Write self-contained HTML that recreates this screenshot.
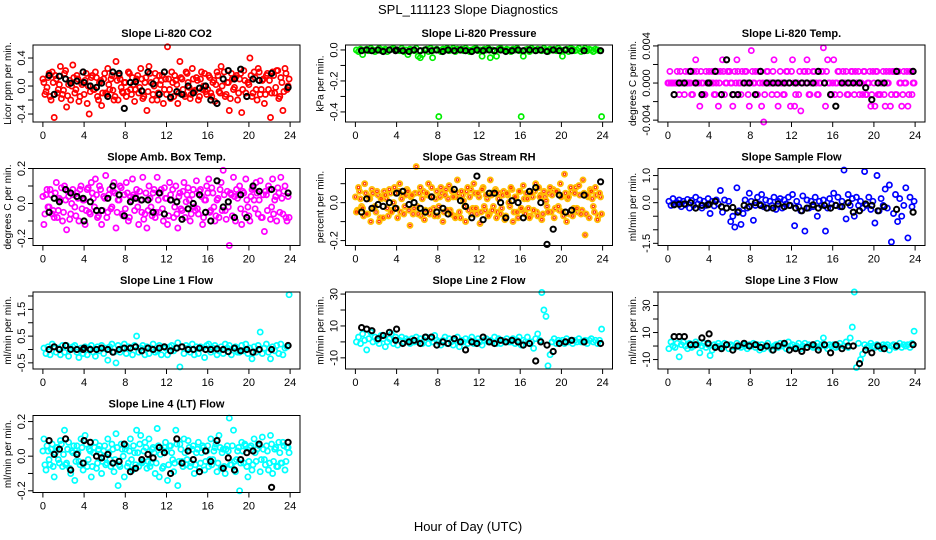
<!DOCTYPE html>
<html><head><meta charset="utf-8"><style>
html,body{margin:0;padding:0;background:#fff;}
svg{display:block;font-family:"Liberation Sans",sans-serif;}
</style></head><body>
<svg id="chart" width="936" height="540" viewBox="0 0 936 540">
<text x="468" y="14" text-anchor="middle" font-size="13">SPL_111123  Slope Diagnostics</text>
<text x="468" y="531" text-anchor="middle" font-size="13">Hour of Day (UTC)</text>
</svg>
<script>
const TC=[0.1,0.3,0.5,0.7,0.9,1.1,1.3,1.5,1.7,1.9,2.1,2.3,2.5,2.7,2.9,3.1,3.3,3.5,3.7,3.9,4.1,4.3,4.5,4.7,4.9,5.1,5.3,5.5,5.7,5.9,6.1,6.3,6.5,6.7,6.9,7.1,7.3,7.5,7.7,7.9,8.1,8.3,8.5,8.7,8.9,9.1,9.3,9.5,9.7,9.9,10.1,10.3,10.5,10.7,10.9,11.1,11.3,11.5,11.7,11.9,12.1,12.3,12.5,12.7,12.9,13.1,13.3,13.5,13.7,13.9,14.1,14.3,14.5,14.7,14.9,15.1,15.3,15.5,15.7,15.9,16.1,16.3,16.5,16.7,16.9,17.1,17.3,17.5,17.7,17.9,18.1,18.3,18.5,18.7,18.9,19.1,19.3,19.5,19.7,19.9,20.1,20.3,20.5,20.7,20.9,21.1,21.3,21.5,21.7,21.9,22.1,22.3,22.5,22.7,22.9,23.1,23.3,23.5,23.7,23.9];
const TC2=[0.0,0.2,0.4,0.6,0.8,1.0,1.2,1.4,1.6,1.8,2.0,2.2,2.4,2.6,2.8,3.0,3.2,3.4,3.6,3.8,4.0,4.2,4.4,4.6,4.8,5.0,5.2,5.4,5.6,5.8,6.0,6.2,6.4,6.6,6.8,7.0,7.2,7.4,7.6,7.8,8.0,8.2,8.4,8.6,8.8,9.0,9.2,9.4,9.6,9.8,10.0,10.2,10.4,10.6,10.8,11.0,11.2,11.4,11.6,11.8,12.0,12.2,12.4,12.6,12.8,13.0,13.2,13.4,13.6,13.8,14.0,14.2,14.4,14.6,14.8,15.0,15.2,15.4,15.6,15.8,16.0,16.2,16.4,16.6,16.8,17.0,17.2,17.4,17.6,17.8,18.0,18.2,18.4,18.6,18.8,19.0,19.2,19.4,19.6,19.8,20.0,20.2,20.4,20.6,20.8,21.0,21.2,21.4,21.6,21.8,22.0,22.2,22.4,22.6,22.8,23.0,23.2,23.4,23.6,23.8];
const TB=[0.6,1.1,1.6,2.2,2.7,3.3,3.9,4.0,4.6,5.2,5.7,6.3,6.8,7.4,7.9,8.5,9.0,9.6,10.2,10.7,11.3,11.8,12.4,13.0,13.5,14.1,14.6,15.2,15.8,16.3,16.9,17.5,18.0,18.6,19.2,19.8,20.4,21.0,22.2,23.8];
const xTicks=[0,4,8,12,16,20,24];

const co2C=[.05,-.08,.12,-.15,.2,-.45,.1,-.05,.28,-.12,.18,-.3,.02,-.2,.3,-.1,.15,-.22,.05,.2,.08,-.25,-.4,.12,-.05,.2,-.15,.05,-.28,.1,-.1,.25,-.05,.15,-.2,.35,-.2,.1,-.08,.05,-.15,.2,-.05,.12,-.22,.1,-.1,.25,-.18,.05,-.35,.28,.05,-.12,.18,-.2,.15,.08,-.25,.1,.56,-.05,.2,-.15,.08,-.25,.35,.1,-.12,.2,.05,-.18,.25,-.08,.12,-.2,.1,-.05,.18,-.12,.15,-.1,.05,-.22,.2,-.08,.28,.1,-.15,.05,-.35,.18,-.05,.12,-.2,.1,-.38,.22,-.1,.05,.4,-.15,.2,-.05,.25,-.12,.08,-.25,.15,-.05,-.45,.2,-.1,.22,-.18,.12,-.35,.25,-.05,.1];
const co2C2=[.1,-.12,-.02,.18,-.2,.05,.15,-.1,.02,-.18,-.06,.22,-.14,.08,.0,.12,-.05,.1,-.15,.02,-.12,.18,.0,-.08,.15,-.05,.12,-.2,.08,-.1,.18,-.12,.02,.1,-.06,-.15,.08,.15,-.02,-.1,.05,-.08,.18,-.12,.02,-.05,.15,-.02,.1,-.15,.12,-.08,.18,-.2,.0,.08,-.1,.02,.15,-.05,-.12,.1,-.18,.05,.15,.02,-.1,.12,-.05,-.15,.18,-.02,-.12,.1,-.06,.08,-.15,.2,.0,-.08,-.05,.12,-.15,.08,.02,.15,-.1,.0,.2,-.12,.05,-.18,.1,-.02,.15,-.1,.18,-.05,.08,-.15,.02,.15,-.1,.12,-.2,.2,-.05,.1,-.12,.18,.08,-.1,.15,-.02,.22,-.15,.05,-.08,.18,.0];
const co2B=[.15,-.12,.14,.1,.04,.07,.2,.05,.0,-.02,.04,-.15,.2,.18,-.32,.05,.06,-.07,.2,.03,-.12,.2,-.16,-.08,-.12,.0,-.1,-.03,.0,-.2,-.25,.1,.22,.1,.24,-.15,.1,.08,.18,-.02];
const pressC=[0,-.01,.005,-.03,0,.005,-.005,.01,0,-.01,0,.01,-.005,0,.005,-.01,0,.005,.01,-.005,0,-.005,.01,-.01,0,-.03,.005,0,-.005,.01,-.04,-.05,-.03,0,.005,-.01,.01,-.05,0,.005,-.43,-.01,.005,0,.01,-.005,0,.01,-.01,.005,0,.005,-.005,.01,0,-.01,0,.005,.01,-.005,0,-.04,.005,0,.01,-.05,0,-.01,-.04,.005,.01,0,-.005,.005,0,-.01,.005,0,.01,-.005,-.43,-.04,0,.005,-.01,.01,0,-.005,.005,0,-.005,.01,0,-.01,.005,0,.005,-.005,.01,0,-.04,0,.005,-.01,.01,.005,-.005,0,.01,-.01,0,.01,-.005,.005,0,-.01,.005,0,-.005,-.43];
const pressB=[-.005,0,-.005,0,-.01,0,-.005,0,-.005,-.01,0,-.005,0,-.005,0,-.01,0,-.005,0,-.005,-.01,0,-.005,0,-.005,0,-.01,-.005,0,-.005,0,-.005,0,-.01,0,-.005,0,-.005,-.005,-.005];
const tempC=[0,0,0,0,.00125,-.00125,0,0,.00125,0,0,-.00125,.00125,.0025,0,-.0025,0,-.00125,.00125,0,0,.00125,-.00125,0,-.0025,.00125,.0025,-.00125,0,.00125,0,-.0025,.00125,.0025,0,-.00125,0,.00125,0,-.0025,.0035,0,.00125,-.00125,0,-.0025,-.0042,0,.00125,0,-.00125,.0025,0,-.0025,.00125,0,-.00125,.00125,0,-.0025,.0025,-.0025,0,-.00125,-.003,0,.00125,.0025,-.00125,0,.00125,0,-.00125,0,.00125,.0038,-.0025,.0025,0,-.00125,.0025,0,.00125,-.00125,0,0,.00125,-.00125,0,.00125,-.00125,0,.00125,0,-.00125,.00125,-.00125,0,-.0025,.00125,-.0025,.00125,-.00125,0,.00125,-.0025,0,.00125,-.00125,.00125,-.00125,.00125,0,-.0025,.00125,0,-.0025,.00125,-.00125,0];
const tempC2=[0,.00125,0,-.00125,0,0,.00125,0,-.00125,0,.00125,0,-.00125,0,.00125,0,.00125,0,-.00125,0,.00125,0,0,-.00125,.00125,0,-.00125,.00125,0,.00125,.00125,0,-.00125,0,.00125,0,.00125,0,.00125,-.00125,0,.00125,0,-.00125,.00125,.00125,0,-.00125,.00125,0,0,.00125,0,-.00125,0,0,-.00125,0,.00125,0,.00125,0,-.00125,0,.00125,0,.00125,0,.00125,-.00125,0,.00125,0,-.00125,0,.00125,0,.00125,0,-.00125,0,-.00125,0,.00125,0,.00125,0,-.00125,0,.00125,0,.00125,0,-.00125,0,.00125,-.00125,0,.00125,-.00125,0,.00125,-.00125,-.00125,0,-.00125,.00125,0,-.0025,.00125,.00125,-.00125,.00125,0,-.00125,0,.00125,-.00125,.00125,0];
const tempB=[-.00125,0,0,.00125,0,-.00125,0,0,.00125,-.00125,.0025,-.00125,-.00125,0,0,-.00125,.00125,0,0,0,0,0,0,0,0,0,.00125,0,-.00125,-.0025,0,0,0,0,-.0005,-.0018,0,0,.00125,.00125];
const ambC=[-.12,.05,-.02,.08,-.06,-.08,.12,-.04,.02,-.1,.1,-.15,.04,-.06,.08,-.02,.06,-.1,.1,.02,-.12,.08,-.05,.12,.03,.14,-.08,.1,-.12,.04,.16,-.05,.08,-.02,.12,-.14,.02,.1,-.06,.05,.12,-.1,.04,.14,-.04,.08,-.12,.02,.15,-.06,-.14,.1,-.02,.06,-.08,.15,-.05,.08,-.1,.03,-.12,.12,.02,-.08,.1,-.14,.06,-.04,.12,.01,.09,-.1,.05,-.02,.13,-.06,.08,-.12,.02,.1,.14,-.04,.06,-.1,.02,-.08,.12,.19,-.04,.07,-.24,.05,.15,-.1,.03,.1,-.12,.06,.14,-.02,-.1,.08,.02,.12,-.06,.13,-.08,-.16,.05,.1,-.09,.14,.02,-.1,.06,.15,-.06,.1,-.1,-.08];
const ambC2=[.04,-.06,.08,-.02,.05,-.04,.06,-.08,.03,.09,-.05,.02,.07,-.09,.0,.05,-.07,.03,.08,-.03,.02,-.04,.09,-.06,.06,-.02,.05,-.07,.08,-.04,.03,-.08,.05,-.03,.07,.06,-.05,.02,.09,-.07,-.03,.06,-.08,.02,.05,.04,-.02,.07,-.05,-.09,.06,-.04,.03,-.07,.08,-.05,.02,.06,-.03,.09,.03,-.07,.05,.08,-.02,-.06,.04,-.03,.07,-.08,.05,.02,-.06,.08,-.04,-.03,.07,.04,-.08,.02,.06,-.05,.09,-.02,-.07,.03,.08,-.04,.05,-.09,-.02,.06,-.07,.04,.08,.05,-.03,.07,-.06,.02,-.07,.04,.09,-.03,.06,.02,-.08,.05,.07,-.04,.08,-.02,-.06,.04,.09,-.05,.03,.07,-.08,.04];
const ambB=[-.05,.03,.01,.08,.06,.04,.03,-.1,.01,-.04,-.04,.03,.1,.05,-.07,.01,.03,.02,.02,-.05,.06,-.06,.02,.01,-.09,-.03,.0,.05,-.05,-.1,.13,-.02,.01,-.08,.05,-.08,.1,.07,.08,.06];
const rhC=[-.05,.08,.02,-.03,.1,-.06,.03,-.1,.05,-.02,.06,-.1,.02,-.08,.04,-.03,.07,-.05,.0,.05,-.08,.1,.02,-.06,.04,.06,-.12,.04,-.03,.19,-.06,.08,.02,-.09,.05,.1,-.04,.03,-.07,.06,-.02,.08,-.1,.04,-.04,.09,-.06,.03,-.08,.12,-.05,.06,.01,-.1,.08,.03,-.06,.1,-.03,.05,-.11,.07,-.02,.04,-.07,.12,-.04,.06,-.08,.02,-.06,.04,-.09,.05,.0,.08,-.1,.03,-.05,.06,-.03,.09,-.06,.02,-.08,.05,-.04,.1,-.07,.03,-.09,.06,.01,-.05,.08,.04,-.08,.06,-.02,.1,-.05,.15,-.1,.03,.08,-.07,.05,-.03,.09,-.06,.12,-.17,.04,-.08,.06,-.02,.08,-.09,.05,-.06];
const rhC2=[.03,-.04,.06,-.02,-.07,.05,-.06,.02,.07,-.03,-.05,.04,-.08,.03,.06,.02,-.07,.05,-.04,.08,-.03,.06,-.05,.04,-.02,.07,-.04,.03,-.06,.05,-.02,.05,-.07,.06,-.04,.04,-.06,.08,-.03,.02,-.07,.03,.05,-.05,.07,.02,-.04,.06,-.07,.03,.05,-.08,.04,-.02,.06,-.04,.07,-.03,.05,-.06,.03,-.05,.08,-.04,.02,-.06,.04,-.02,.07,-.05,.05,-.03,.06,-.07,.04,-.02,.07,-.05,.03,-.08,.06,-.04,.02,.05,-.03,-.07,.03,.06,-.05,.08,.04,-.06,.03,-.02,.05,-.05,.07,-.03,.06,-.04,.03,-.07,.05,.02,-.06,.06,-.03,.08,-.05,.04,-.04,.05,-.06,.03,.07,.02,-.05,.04,-.07,.03];
const rhB=[-.05,.02,-.03,-.01,-.02,.0,-.03,.05,.06,-.01,.0,-.03,-.05,.03,-.05,-.03,-.06,.07,.01,-.02,-.08,.14,-.09,.05,.05,.0,-.08,.01,.0,-.08,.06,.08,.0,-.22,-.14,.04,-.05,-.04,.04,.11];
const sampC=[.05,-.1,.15,-.05,.0,.1,-.15,.05,-.08,.12,-.2,.08,-.1,.2,-.05,.1,-.2,.05,-.1,.15,-.4,.05,-.12,.1,-.05,.45,-.35,.1,-.2,.05,-.7,-.5,-.9,.55,-.3,-.8,-.4,.1,-.2,.35,.05,-.65,-.1,.2,-.05,.3,-.15,.1,-.2,.05,-.1,.2,-.25,.05,.15,-.2,.1,-.05,.2,-.1,.3,-.85,.05,-.15,-.3,.25,-1.05,.1,-.2,.05,-.15,.2,-.5,.05,-.1,.1,-1.05,-.2,.15,-.05,.35,-.1,.2,-.15,.05,1.2,-.6,.3,-.1,.15,-.5,.2,-.1,.05,-.2,1.15,-.1,.2,-.25,.05,-.75,1.0,-.3,.15,-.1,.5,-.2,.65,-1.45,-.4,.3,-.7,.15,-.5,-.1,.55,-1.3,.2,-.15,.05];
const sampB=[-.08,-.06,-.05,.0,-.2,-.1,-.08,-.06,.05,-.15,-.2,-.18,-.35,-.1,-.15,.0,-.1,-.2,-.2,-.05,-.15,-.1,-.2,-.3,-.2,-.08,-.2,-.1,-.2,-.1,-.15,.0,-.35,-.3,-.05,-.1,-.3,-.15,-.25,-.35];
const line1C=[.05,-.15,.1,-.2,.2,.1,-.1,.05,-.2,.15,-.1,.15,-.25,.05,.1,.15,-.1,-.3,.05,-.15,.1,-.2,.05,.15,-.1,-.25,.1,-.05,.15,-.15,.05,-.4,.1,.2,-.1,-.5,.15,-.1,.05,.2,-.15,.1,.05,-.2,.15,.5,-.1,.05,.15,-.2,.1,-.15,.05,.2,-.1,-.05,.15,-.2,.1,.05,-.2,.1,.15,-.05,.05,.25,-.65,.1,-.15,.15,.05,-.1,.2,-.2,.1,-.15,.1,.05,-.3,.15,.2,-.1,.05,.15,-.2,-.05,.1,-.15,.2,.05,.15,-.2,.05,.1,-.1,-.1,.15,-.05,.2,-.15,.05,-.35,.1,-.1,.15,.65,-.15,.05,.2,-.1,-.35,.1,-.05,.15,-.15,.2,-.2,.05,.1,2.05];
const line1B=[.0,.1,.0,.15,.0,.0,.0,.05,.0,.0,.05,.0,-.1,.0,.05,.05,.1,-.05,.05,.0,.05,.1,-.05,.05,.1,.0,.0,.05,.0,.0,.02,.0,-.08,.05,-.05,.0,-.1,.0,.0,.15];
const line2C=[0,3,-1,5,1,-5,2,6,0,3,1,-1,4,2,-3,0,2,5,-1,3,-2,1,3,0,2,1,-1,2,0,3,0,2,-1,1,3,-1,2,0,4,1,0,-2,1,3,-1,2,0,-2,1,3,-3,1,0,2,-1,1,3,-1,0,2,0,-2,1,2,0,1,0,3,-1,2,-1,1,0,2,0,0,2,-1,1,3,-2,1,0,3,-1,0,-4,2,5,1,31,20,16,-15,-8,0,2,-1,1,0,1,-1,2,0,1,-1,1,0,2,0,0,1,-1,1,2,0,1,-1,1,8];
const line2B=[9,8,7,2,4,6,1,8,-1,0,1,-1,3,3,-2,0,-1,2,0,-5,0,-1,3,0,-1,1,0,1,0,-2,-1,-12,0,-2,-6,-1,0,1,0,-1];
const line3C=[-2,3,0,-1,2,-8,1,3,0,-2,2,-1,0,3,1,-5,0,2,-1,1,-7,-3,1,0,2,0,-1,2,1,-2,1,0,-1,2,0,-1,1,0,-2,1,0,2,-1,1,-3,1,-2,0,2,-1,-3,0,1,-1,2,0,1,-2,3,0,1,-1,0,2,-2,0,2,-1,1,0,-1,0,2,-1,1,6,0,-2,1,0,1,-1,0,2,-2,0,3,-1,6,14,40,-16,2,-10,-6,1,-1,0,2,0,-1,1,0,-2,1,0,1,-3,0,1,-1,0,2,-1,1,0,1,-1,2,11];
const line3B=[7,7,7,1,1,6,2,9,-1,-2,1,-3,0,2,0,1,-1,0,-3,0,2,-3,-2,-4,-1,1,-3,1,-5,1,-2,0,0,-13,-3,-5,0,-2,0,1];
const line4C=[.1,-.08,.03,-.05,.07,-.12,.05,-.02,.09,-.06,.15,-.04,.08,-.1,.02,-.14,.06,-.03,.1,-.08,.12,-.06,.04,-.12,.02,.08,-.04,.06,-.1,.03,-.05,.1,-.02,.07,-.09,.13,-.17,-.06,.04,-.12,.06,-.04,.1,-.08,.02,.15,-.06,.12,-.03,.08,-.07,.1,-.04,.05,-.1,.16,-.12,.04,-.06,.08,-.14,.06,.02,-.09,.15,-.17,.07,-.03,.1,-.05,.09,-.06,.04,-.1,.02,.08,-.04,.06,-.08,.03,-.06,.1,-.02,.05,-.09,.12,-.07,.04,-.1,.06,.22,-.05,.15,-.09,.03,-.2,.08,-.04,.06,-.12,.05,-.08,.1,-.03,.07,-.09,.11,-.02,.06,-.08,.12,-.1,.04,-.06,.08,-.04,.08,-.08,.05,.02];
const line4C2=[.03,-.05,.06,-.02,.04,-.06,.02,.05,-.04,.07,.01,-.05,.04,-.07,.03,.06,-.03,.02,-.05,.05,-.04,.07,-.02,.03,-.06,.05,-.07,.04,.01,-.03,.06,-.04,.02,-.06,.04,-.02,.05,-.05,.07,.0,.04,-.06,.03,-.02,.06,-.05,.02,.07,-.04,.03,.05,-.03,-.06,.04,.02,-.04,.06,.01,-.07,.05,.03,-.05,.06,-.02,-.04,.07,-.03,.04,-.06,.02,-.02,.05,-.04,.06,-.05,.04,-.07,.02,.05,-.03,.06,-.02,-.05,.03,.07,-.04,.05,.02,-.06,.04,.03,-.05,.06,-.03,-.02,.05,-.04,.03,.07,-.06,-.03,.06,-.05,.02,.04,.06,-.02,.04,-.05,.03,-.04,.07,-.03,.05,-.06,.02,-.04,.06,-.03,.05];
const line4B=[.09,.01,.04,.1,-.08,.01,-.04,.09,.08,.0,-.01,.01,-.04,-.03,.07,-.09,-.07,-.02,.01,-.01,.05,.02,-.1,.1,-.04,.03,-.02,-.09,.03,-.03,.09,-.07,-.01,-.08,-.02,.02,.03,.07,-.18,.08];

const co2Ticks=[-0.4,-0.2,0,0.2,0.4], co2Labels=["-0.4","","0.0","","0.4"];
const pressTicks=[-0.4,-0.3,-0.2,-0.1,0], pressLabels=["-0.4","","-0.2","","0.0"];
const tempTicks=[-0.004,-0.002,0,0.002,0.004], tempLabels=["-0.004","","0.000","","0.004"];
const ambTicks=[-0.2,-0.1,0,0.1,0.2], ambLabels=["-0.2","","0.0","","0.2"];
const rhTicks=[-0.2,-0.1,0,0.1], rhLabels=["-0.2","","0.0",""];
const sampTicks=[-1.5,-1,-0.5,0,0.5,1], sampLabels=["-1.5","","","0.0","","1.0"];
const line1Ticks=[-0.5,0,0.5,1,1.5,2], line1Labels=["-0.5","","0.5","","1.5",""];
const line2Ticks=[-10,0,10,20,30], line2Labels=["-10","","10","","30"];
const line3Ticks=[-10,0,10,20,30,40], line3Labels=["-10","","10","","30",""];
const line4Ticks=[-0.2,-0.1,0,0.1,0.2], line4Labels=["-0.2","","0.0","","0.2"];

const panels=[
 {name:"co2",title:"Slope Li-820 CO2",ylab:"Licor ppm per min.",ymin:-0.514,ymax:0.586,col:"#ff0000",c:co2C,c2:co2C2,b:co2B,t:co2Ticks,l:co2Labels},
 {name:"pressure",title:"Slope Li-820 Pressure",ylab:"kPa per min.",ymin:-0.465,ymax:0.032,col:"#00ee00",c:pressC,b:pressB,t:pressTicks,l:pressLabels},
 {name:"temp",title:"Slope Li-820 Temp.",ylab:"degrees C per min.",ymin:-0.0042,ymax:0.0041,col:"#ff00ff",c:tempC,c2:tempC2,b:tempB,t:tempTicks,l:tempLabels},
 {name:"amb-box-temp",title:"Slope Amb. Box Temp.",ylab:"degrees C per min.",ymin:-0.24,ymax:0.2,col:"#ff00ff",c:ambC,c2:ambC2,b:ambB,t:ambTicks,l:ambLabels},
 {name:"gas-stream-rh",title:"Slope Gas Stream RH",ylab:"percent per min.",ymin:-0.226,ymax:0.18,col:"#ffc000",c:rhC,c2:rhC2,b:rhB,t:rhTicks,l:rhLabels},
 {name:"sample-flow",title:"Slope Sample Flow",ylab:"ml/min per min.",ymin:-1.58,ymax:1.26,col:"#0000ff",c:sampC,b:sampB,t:sampTicks,l:sampLabels},
 {name:"line1-flow",title:"Slope Line 1 Flow",ylab:"ml/min per min.",ymin:-0.73,ymax:2.15,col:"#00ffff",c:line1C,b:line1B,t:line1Ticks,l:line1Labels},
 {name:"line2-flow",title:"Slope Line 2 Flow",ylab:"ml/min per min.",ymin:-17,ymax:31.3,col:"#00ffff",c:line2C,b:line2B,t:line2Ticks,l:line2Labels},
 {name:"line3-flow",title:"Slope Line 3 Flow",ylab:"ml/min per min.",ymin:-17,ymax:40,col:"#00ffff",c:line3C,b:line3B,t:line3Ticks,l:line3Labels},
 {name:"line4-flow",title:"Slope Line 4 (LT) Flow",ylab:"ml/min per min.",ymin:-0.21,ymax:0.235,col:"#00ffff",c:line4C,c2:line4C2,b:line4B,t:line4Ticks,l:line4Labels}
];
const NS="http://www.w3.org/2000/svg";
const svg=document.getElementById('chart');
function mk(tag,attrs,parent){const e=document.createElementNS(NS,tag);for(const k in attrs)e.setAttribute(k,attrs[k]);parent.appendChild(e);return e;}
const colL=[33,345.5,658], rowT=[45,168.5,292,415.5], W=267, H=77, XMIN=-0.96, XMAX=24.96;
panels.forEach((p,i)=>{
  const L=colL[i%3], T=rowT[Math.floor(i/3)];
  const sx=v=>L+(v-XMIN)/(XMAX-XMIN)*W;
  const sy=v=>T+(p.ymax-v)/(p.ymax-p.ymin)*H;
  const g=mk('g',{},svg);
  
  
  const tt=mk('text',{x:L+W/2,y:T-8,'text-anchor':'middle','font-size':'11','font-weight':'bold'},g);
  tt.textContent=p.title;
  
  
  const pts=mk('g',{fill:'none',stroke:p.col,'stroke-width':'1.7'},g);
  
  
  function drawSeries(times,vals){
    const n=Math.min(times.length,vals.length);
    for(let k=0;k<n;k++){
      const c=mk('circle',{cx:sx(times[k]).toFixed(1),cy:sy(vals[k]).toFixed(1),r:'2.6'},pts);
      
      
      if(p.name==='gas-stream-rh'){mk('circle',{cx:sx(times[k]).toFixed(1),cy:sy(vals[k]).toFixed(1),r:'1.2',stroke:'#ff3000','stroke-width':'1'},pts);}
    }
  }
  if(p.c2) drawSeries(TC2,p.c2);
  drawSeries(TC,p.c);
  const bp=mk('g',{fill:'none',stroke:'#000','stroke-width':'2'},g);
  
  
  const nb=Math.min(TB.length,p.b.length);
  for(let k=0;k<nb;k++){
    const c=mk('circle',{cx:sx(TB[k]).toFixed(1),cy:sy(p.b[k]).toFixed(1),r:'2.6'},bp);
    
    
  }
  const box=mk('rect',{x:L,y:T,width:W,height:H,fill:'none',stroke:'#000','stroke-width':'1'},g);
  
  
  const xa=mk('g',{stroke:'#000','stroke-width':'1'},g);
  
  
  mk('line',{x1:sx(xTicks[0]),x2:sx(xTicks[xTicks.length-1]),y1:T+H,y2:T+H},xa);
  xTicks.forEach(v=>{
    mk('line',{x1:sx(v),x2:sx(v),y1:T+H,y2:T+H+5},xa);
    const t=mk('text',{x:sx(v),y:T+H+17,'text-anchor':'middle','font-size':'11',stroke:'none',fill:'#000'},xa);
    t.textContent=String(v);
    
    
  });
  const ya=mk('g',{stroke:'#000','stroke-width':'1'},g);
  
  
  mk('line',{x1:L,x2:L,y1:sy(p.t[0]),y2:sy(p.t[p.t.length-1])},ya);
  p.t.forEach((v,k)=>{
    mk('line',{x1:L-5,x2:L,y1:sy(v),y2:sy(v)},ya);
    if(p.l[k]){
      const t=mk('text',{x:L-8,y:sy(v),'text-anchor':'middle','font-size':'11',stroke:'none',fill:'#000',transform:`rotate(-90 ${L-8} ${sy(v)})`},ya);
      t.textContent=p.l[k];
      
      
    }
  });
  const yl=mk('text',{x:L-22,y:T+H/2,'text-anchor':'middle','font-size':'10',transform:`rotate(-90 ${L-22} ${T+H/2})`},g);
  yl.textContent=p.ylab;
  
  
});
</script>
</body></html>
